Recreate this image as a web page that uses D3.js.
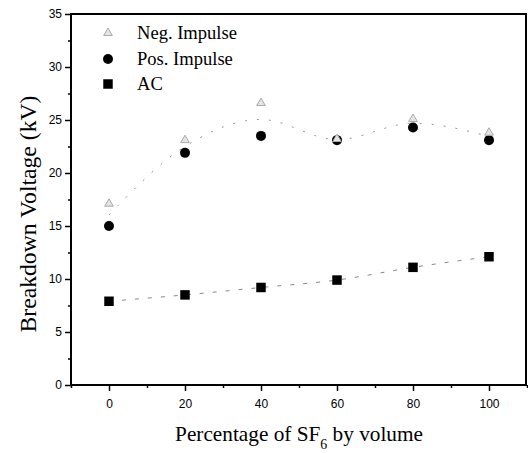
<!DOCTYPE html>
<html>
<head>
<meta charset="utf-8">
<script src="https://cdn.jsdelivr.net/npm/d3@7"></script>
<style>
  body { margin: 0; background: #fff; }
  svg { display: block; }
</style>
</head>
<body>
<div id="chart"></div>
<script>
// data
var sf6 = [0, 20, 40, 60, 80, 100];
var negImpulse = [17.1, 23.1, 26.6, 23.2, 25.1, 23.8];
var posImpulse = [15.0, 21.9, 23.5, 23.1, 24.3, 23.1];
var ac = [7.9, 8.5, 9.2, 9.9, 11.1, 12.1];
var xTicks = [0, 20, 40, 60, 80, 100];
var yTicks = [0, 5, 10, 15, 20, 25, 30, 35];
var legendNames = ['Neg. Impulse', 'Pos. Impulse', 'AC'];

var W = 528, H = 453;
var margin = {left: 71, right: 1, top: 14, bottom: 68};
var serif = '"Liberation Serif", "Times New Roman", serif';

var x = d3.scaleLinear()
    .domain([-10, 110])
    .range([margin.left, W - margin.right]);

var y = d3.scaleLinear()
    .domain([0, 35])
    .range([H - margin.bottom, margin.top]);

var svg = d3.select('#chart')
    .append('svg')
    .attr('width', W)
    .attr('height', H);

// shrink/grow a text so it spans the given width
function fit(sel, width) {
    var n = sel.node();
    var fs = parseFloat(sel.style('font-size'));
    var w = n.getComputedTextLength();
    if (w > 0) sel.style('font-size', (fs * width / w) + 'px');
}

// trend lines (faint dashed)
var impulseMean = sf6.map(function(d, i) { return (negImpulse[i] + posImpulse[i]) / 2; });
var line = d3.line()
    .x(function(d) { return x(d[0]); })
    .y(function(d) { return y(d[1]); })
    .curve(d3.curveMonotoneX);

svg.append('path')
    .attr('d', line(sf6.map(function(d, i) { return [d, impulseMean[i]]; })))
    .attr('fill', 'none')
    .attr('stroke', '#999')
    .attr('stroke-width', 1)
    .style('stroke-dasharray', '2,10');

svg.append('path')
    .attr('d', line(sf6.map(function(d, i) { return [d, ac[i]]; })))
    .attr('fill', 'none')
    .attr('stroke', '#888')
    .attr('stroke-width', 1)
    .style('stroke-dasharray', '4,9');

// axes
var xAxis = d3.axisBottom(x).tickValues(xTicks).tickSize(6).tickPadding(8);
var xMinor = d3.axisBottom(x).tickValues([-10, 10, 30, 50, 70, 90, 110]).tickSize(3).tickFormat('');
var yAxis = d3.axisLeft(y).tickValues(yTicks).tickSize(6).tickPadding(3);
var yMinor = d3.axisLeft(y).tickValues(d3.range(2.5, 35, 5)).tickSize(3).tickFormat('');

function style(g) {
    g.select('.domain').remove();
    g.selectAll('line').attr('stroke', '#000').attr('stroke-width', 1.5);
    g.selectAll('text')
        .attr('fill', '#000')
        .style('font-family', '"Liberation Sans", Arial, sans-serif')
        .style('font-size', '12px');
}

svg.append('g').attr('transform', 'translate(0,' + y(0) + ')').call(xAxis).call(style);
svg.append('g').attr('transform', 'translate(0,' + y(0) + ')').call(xMinor).call(style);
svg.append('g').attr('transform', 'translate(' + x(-10) + ',0)').call(yAxis).call(style);
svg.append('g').attr('transform', 'translate(' + x(-10) + ',0)').call(yMinor).call(style);

// frame
svg.append('rect')
    .attr('x', x(-10))
    .attr('y', y(35))
    .attr('width', x(110) - x(-10) - 1)
    .attr('height', y(0) - y(35))
    .attr('fill', 'none')
    .attr('stroke', '#000')
    .attr('stroke-width', 2);

// markers
var tri = d3.symbol().type(d3.symbolTriangle).size(32);
var sq = d3.symbol().type(d3.symbolSquare).size(90);

svg.selectAll('.pos')
    .data(sf6)
    .enter()
    .append('circle')
    .attr('cx', function(d) { return x(d); })
    .attr('cy', function(d, i) { return y(posImpulse[i]); })
    .attr('r', 5)
    .attr('fill', '#000');

svg.selectAll('.neg')
    .data(sf6)
    .enter()
    .append('path')
    .attr('d', tri)
    .attr('transform', function(d, i) { return 'translate(' + x(d) + ',' + y(negImpulse[i]) + ')'; })
    .attr('fill', '#e4e4e4')
    .attr('stroke', '#aaa')
    .attr('stroke-width', 1);

svg.selectAll('.ac')
    .data(sf6)
    .enter()
    .append('path')
    .attr('d', sq)
    .attr('transform', function(d, i) { return 'translate(' + x(d) + ',' + y(ac[i]) + ')'; })
    .attr('fill', '#000');

// legend
var lx = 108, ly = [33, 59, 84];
svg.append('path')
    .attr('d', tri)
    .attr('transform', 'translate(' + lx + ',' + ly[0] + ')')
    .attr('fill', '#e4e4e4')
    .attr('stroke', '#aaa');
svg.append('circle')
    .attr('cx', lx)
    .attr('cy', ly[1])
    .attr('r', 5)
    .attr('fill', '#000');
svg.append('path')
    .attr('d', sq)
    .attr('transform', 'translate(' + lx + ',' + ly[2] + ')')
    .attr('fill', '#000');

var leg = svg.selectAll('.legtext')
    .data(legendNames)
    .enter()
    .append('text')
    .attr('x', 137)
    .attr('y', function(d, i) { return ly[i] + 6; })
    .text(function(d) { return d; })
    .style('font-family', serif)
    .style('font-size', '16px');
// size legend so "Neg. Impulse" spans ~100px
var lw = leg.filter(function(d, i) { return i === 0; }).node().getComputedTextLength();
leg.style('font-size', (16 * 100 / lw) + 'px');

// axis titles
var yt = svg.append('text')
    .attr('transform', 'translate(36,214) rotate(-90)')
    .attr('text-anchor', 'middle')
    .style('font-family', serif)
    .style('font-size', '20px')
    .text('Breakdown Voltage (kV)');
fit(yt, 237);

var xt = svg.append('text')
    .attr('x', x(50))
    .attr('y', 441)
    .attr('text-anchor', 'middle')
    .style('font-family', serif)
    .style('font-size', '20px');
xt.append('tspan').text('Percentage of SF');
xt.append('tspan').attr('dy', 8).style('font-size', '13px').text('6');
xt.append('tspan').attr('dy', -8).text(' by volume');
fit(xt, 248);
xt.selectAll('tspan').filter(function(d, i) { return i === 1; })
    .style('font-size', (parseFloat(xt.style('font-size')) * 0.65) + 'px');
</script>
</body>
</html>
